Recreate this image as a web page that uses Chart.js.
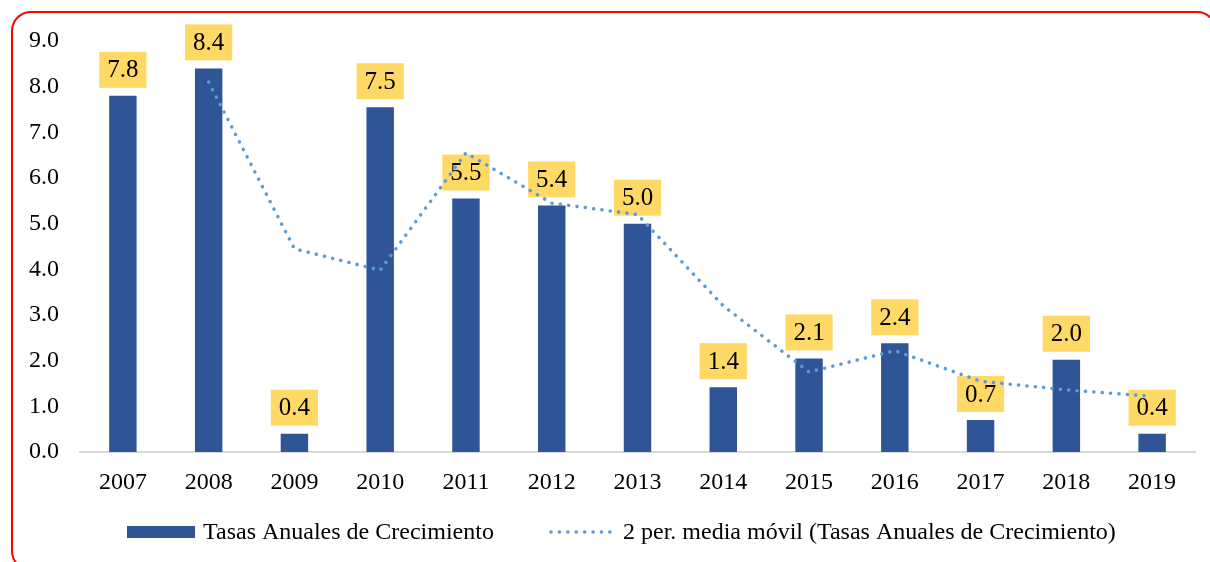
<!DOCTYPE html>
<html>
<head>
<meta charset="utf-8">
<script src="https://cdn.jsdelivr.net/npm/chart.js@4.4.1/dist/chart.umd.min.js"></script>
<style>
  html, body { margin: 0; padding: 0; width: 1210px; height: 562px; overflow: hidden; background: #fff; }
  #wrap { position: relative; width: 1210px; height: 562px; overflow: hidden; }
  #frame { position: absolute; left: 11px; top: 11px; width: 1206px; height: 560px; border: 2.5px solid #ff0000; border-radius: 20px; box-sizing: border-box; pointer-events: none; }
  canvas { position: absolute; left: 0; top: 0; }
</style>
</head>
<body>
<div id="wrap">
  <canvas id="c" width="1210" height="562"></canvas>
  <div id="frame"></div>
</div>
<script>
const years = ['2007','2008','2009','2010','2011','2012','2013','2014','2015','2016','2017','2018','2019'];
const growthRates = [7.8, 8.4, 0.4, 7.55, 5.55, 5.4, 5.0, 1.42, 2.05, 2.38, 0.7, 2.02, 0.4];
const rateLabels = ['7.8','8.4','0.4','7.5','5.5','5.4','5.0','1.4','2.1','2.4','0.7','2.0','0.4'];
const movingAvg = [null, 8.1, 4.45, 3.98, 6.55, 5.45, 5.2, 3.2, 1.75, 2.22, 1.55, 1.36, 1.22];
const yTicks = [0, 1, 2, 3, 4, 5, 6, 7, 8, 9];
const barSeriesName = 'Tasas Anuales de Crecimiento';
const lineSeriesName = '2 per. media móvil (Tasas Anuales de Crecimiento)';

const FONT = '"Liberation Serif", "Times New Roman", serif';
const FS = 24;
const LABEL_FS = 25;
const BAR_COLOR = '#2F5597';
const LINE_COLOR = '#5B9BD5';
const LABEL_BG = '#FFD966';

const labelPlugin = {
  id: 'valueBoxes',
  afterDatasetDraw(chart, args) {
    if (args.index !== 0) return;
    const ctx = chart.ctx;
    const meta = chart.getDatasetMeta(0);
    ctx.save();
    ctx.font = LABEL_FS + 'px ' + FONT;
    ctx.textAlign = 'center';
    ctx.textBaseline = 'middle';
    meta.data.forEach((el, i) => {
      const txt = rateLabels[i];
      const w = ctx.measureText(txt).width + 16;
      const h = 36;
      const bottom = el.y - 8;
      ctx.fillStyle = LABEL_BG;
      ctx.fillRect(el.x - w / 2, bottom - h, w, h);
      ctx.fillStyle = '#000';
      ctx.fillText(txt, el.x, bottom - h / 2 + 1);
    });
    ctx.restore();
  }
};

const legendPlugin = {
  id: 'manualLegend',
  afterDraw(chart) {
    const ctx = chart.ctx;
    const cy = 532;
    ctx.save();
    ctx.font = FS + 'px ' + FONT;
    ctx.textBaseline = 'middle';
    ctx.textAlign = 'left';
    ctx.fillStyle = BAR_COLOR;
    ctx.fillRect(127, cy - 6, 68, 12);
    ctx.fillStyle = '#000';
    ctx.fillText(barSeriesName, 203, cy + 1);
    ctx.strokeStyle = LINE_COLOR;
    ctx.lineWidth = 3.5;
    ctx.lineCap = 'round';
    ctx.setLineDash([0.1, 8.3]);
    ctx.beginPath();
    ctx.moveTo(551, cy);
    ctx.lineTo(616, cy);
    ctx.stroke();
    ctx.setLineDash([]);
    ctx.fillText(lineSeriesName, 623, cy + 1);
    ctx.restore();
  }
};

new Chart(document.getElementById('c'), {
  data: {
    labels: years,
    datasets: [
      {
        type: 'bar',
        label: barSeriesName,
        data: growthRates,
        backgroundColor: BAR_COLOR,
        barPercentage: 0.32,
        categoryPercentage: 1.0,
        order: 2
      },
      {
        type: 'line',
        label: lineSeriesName,
        data: movingAvg,
        borderColor: LINE_COLOR,
        borderWidth: 3.5,
        borderDash: [0.1, 8.3],
        borderCapStyle: 'round',
        pointRadius: 0,
        tension: 0,
        fill: false,
        order: 1
      }
    ]
  },
  options: {
    responsive: false,
    animation: false,
    layout: { padding: { left: 0, right: 15, top: 41, bottom: 0 } },
    plugins: {
      legend: { display: false },
      tooltip: { enabled: false }
    },
    scales: {
      x: {
        grid: { display: false, drawTicks: false },
        border: { display: true, color: '#D9D9D9', width: 2 },
        ticks: { color: '#000', font: { family: FONT, size: FS }, padding: 16, maxRotation: 0 },
        afterFit(s) { s.height = 110; }
      },
      y: {
        min: 0,
        max: 9,
        grid: { display: false, drawTicks: false },
        border: { display: false },
        afterBuildTicks(s) { s.ticks = yTicks.map(v => ({ value: v })); },
        ticks: {
          color: '#000',
          font: { family: FONT, size: FS },
          padding: 21,
          callback: v => Number(v).toFixed(1)
        },
        afterFit(s) { s.width = 80; }
      }
    }
  },
  plugins: [labelPlugin, legendPlugin]
});
</script>
</body>
</html>
